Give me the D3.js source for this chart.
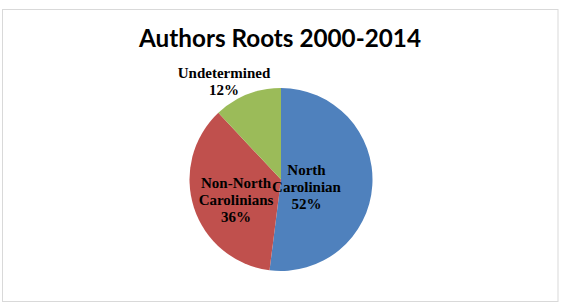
<!DOCTYPE html>
<html><head><meta charset="utf-8">
<script src="https://cdn.jsdelivr.net/npm/d3@7"></script>
<style>html,body{margin:0;padding:0;background:#fff;}svg{display:block;}</style>
</head><body>
<svg id="chart" width="561" height="303"></svg>
<script>
const categories = ["North Carolinian", "Non-North Carolinians", "Undetermined"];
const values = [52, 36, 12];
const labelLines = [["North", "Carolinian"], ["Non-North", "Carolinians"], ["Undetermined"]];
const colors = ["#4F81BD", "#C0504D", "#9BBB59"];
const title = "Authors Roots 2000-2014";

const W = 561, H = 303;
const cx = 281, cy = 179.5, R = 91.5;
// label block anchors relative to pie centre (layout only)
const labelAnchor = [[25.5, -5], [-45, 8], [-57, -102]];

const svg = d3.select("#chart");
svg.append("rect").attr("x", 2.5).attr("y", 9.5).attr("width", 555.5).attr("height", 292)
  .attr("fill", "#fff").attr("stroke", "#d9d9d9").attr("stroke-width", 1);

svg.append("text").attr("x", 280).attr("y", 46.5).attr("text-anchor", "middle")
  .attr("font-family", "Lato, 'Open Sans', sans-serif").attr("font-weight", "bold")
  .attr("font-size", 24.5).attr("textLength", 282).attr("lengthAdjust", "spacingAndGlyphs")
  .attr("fill", "#000").text(title);

const pie = d3.pie().sort(null).value(d => d)(values);
const arc = d3.arc().innerRadius(0).outerRadius(R);
const g = svg.append("g").attr("transform", `translate(${cx},${cy})`);
g.selectAll("path").data(pie).join("path")
  .attr("d", arc).attr("fill", (d, i) => colors[i]);

const pct = d3.format(".0%");
const total = d3.sum(values);
const lh = 17;
pie.forEach((d, i) => {
  const lines = labelLines[i].concat([pct(values[i] / total)]);
  const t = g.append("text").attr("text-anchor", "middle")
    .attr("font-family", "'Liberation Serif', 'Times New Roman', serif")
    .attr("font-weight", "bold").attr("font-size", 15).attr("fill", "#000");
  lines.forEach((ln, k) => {
    t.append("tspan").attr("x", labelAnchor[i][0]).attr("y", labelAnchor[i][1] + k * lh).text(ln);
  });
});
</script>
</body></html>
